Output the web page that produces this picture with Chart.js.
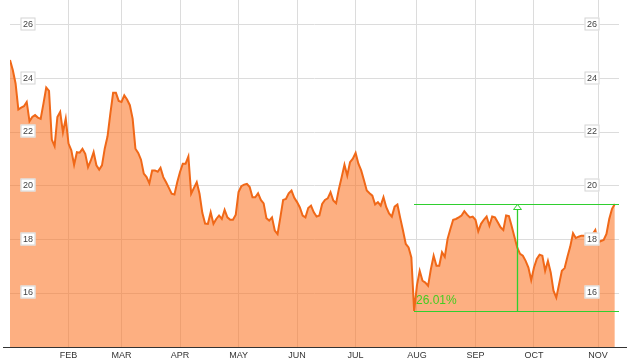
<!DOCTYPE html>
<html>
<head>
<meta charset="utf-8">
<title>Price chart</title>
<script src="https://cdn.jsdelivr.net/npm/chart.js@4.4.1/dist/chart.umd.min.js"></script>
<style>
	html, body { margin: 0; padding: 0; background: #fff; }
	#wrap { position: relative; width: 627px; height: 363px; }
</style>
</head>
<body>
<div id="wrap"><canvas id="price-chart" width="627" height="363"></canvas></div>
<script>
// Daily closes, one per trading day (Jan 2 .. Nov 11).
const closes = [
	24.69, 24.32, 23.82, 22.85, 22.92, 22.97, 23.13, 22.41, 22.57, 22.64,
	22.55, 22.50, 23.07, 23.67, 23.54, 21.73, 21.48, 22.57, 22.76, 22.00,
	22.51, 21.58, 21.33, 20.79, 21.26, 21.24, 21.38, 21.20, 20.70, 20.95,
	21.26, 20.77, 20.61, 20.77, 21.40, 21.85, 22.70, 23.47, 23.47, 23.17,
	23.13, 23.38, 23.22, 23.01, 22.51, 21.39, 21.23, 20.98, 20.46, 20.33,
	20.10, 20.58, 20.58, 20.53, 20.68, 20.33, 20.14, 19.93, 19.71, 19.68,
	20.14, 20.52, 20.83, 20.83, 21.10, 19.71, 19.93, 20.14, 19.71, 19.00,
	18.60, 18.59, 19.02, 18.59, 18.77, 18.90, 18.77, 19.11, 18.83, 18.74,
	18.74, 18.93, 19.77, 19.99, 20.05, 20.08, 19.96, 19.58, 19.58, 19.73,
	19.48, 19.35, 18.80, 18.71, 18.83, 18.34, 18.21, 18.83, 19.48, 19.52,
	19.73, 19.83, 19.56, 19.40, 19.20, 18.90, 18.83, 19.18, 19.27, 19.02,
	18.86, 18.90, 19.33, 19.48, 19.54, 19.77, 19.46, 19.36, 19.89, 20.33,
	20.79, 20.39, 20.89, 21.02, 21.23, 20.83, 20.58, 20.21, 19.83, 19.73,
	19.64, 19.31, 19.40, 19.27, 19.58, 19.21, 18.98, 18.86, 19.23, 19.31,
	18.81, 18.34, 17.84, 17.71, 17.34, 15.34, 16.30, 16.84, 16.47, 16.40,
	16.28, 16.90, 17.40, 17.03, 17.03, 17.53, 17.36, 18.03, 18.40, 18.74,
	18.77, 18.83, 18.90, 19.06, 18.93, 18.83, 18.86, 18.74, 18.31, 18.59,
	18.74, 18.86, 18.52, 18.86, 18.83, 18.65, 18.46, 18.36, 18.90, 18.88,
	18.50, 18.10, 17.70, 17.47, 17.40, 17.21, 16.96, 16.49, 16.96, 17.28,
	17.44, 17.40, 16.84, 17.21, 16.78, 16.10, 15.84, 16.34, 16.84, 16.94,
	17.36, 17.74, 18.24, 18.06, 18.11, 18.15, 18.15, 18.15, 18.17, 18.20,
	18.36, 17.90, 17.95, 17.99, 18.21, 18.77, 19.15, 19.33
];

// Trading-day index of the first session of each month.
const monthStarts = [21, 40, 61, 82, 103, 124, 146, 167, 188, 211];
const monthLabels = ['FEB', 'MAR', 'APR', 'MAY', 'JUN', 'JUL', 'AUG', 'SEP', 'OCT', 'NOV'];

const yTicks = [16, 18, 20, 22, 24, 26];

(function() {
	'use strict';

	const labelFont = '9px Arial, "Liberation Sans", sans-serif';
	const green = '#2fcf2f';

	// Price boxes on both sides of the plot.
	const priceBoxes = {
		id: 'priceBoxes',
		afterDatasetsDraw: function(chart) {
			const ctx = chart.ctx;
			const area = chart.chartArea;
			const y = chart.scales.y;
			ctx.save();
			ctx.font = labelFont;
			ctx.textAlign = 'center';
			ctx.textBaseline = 'middle';
			yTicks.forEach(function(v) {
				const py = Math.round(y.getPixelForValue(v)) - 1;
				[area.left + 18, area.right - 27].forEach(function(cx) {
					ctx.fillStyle = '#ffffff';
					ctx.fillRect(cx - 7.5, py - 6.5, 15, 13);
					ctx.strokeStyle = '#d4d4d4';
					ctx.lineWidth = 1;
					ctx.strokeRect(cx - 7, py - 6, 14, 12);
					ctx.fillStyle = '#444444';
					ctx.fillText(String(v), cx, py + 0.5);
				});
			});
			ctx.restore();
		}
	};

	// Low-to-last range measurement.
	const swingRange = {
		id: 'swingRange',
		afterDatasetsDraw: function(chart) {
			const ctx = chart.ctx;
			const area = chart.chartArea;
			const x = chart.scales.x;
			const y = chart.scales.y;

			let lowIdx = 0;
			closes.forEach(function(v, i) {
				if (v < closes[lowIdx]) {
					lowIdx = i;
				}
			});
			const low = closes[lowIdx];
			const last = closes[closes.length - 1];

			const x0 = Math.round(x.getPixelForValue(lowIdx));
			const x1 = area.right;
			const yLow = Math.round(y.getPixelForValue(low)) + 0.5;
			const yHigh = Math.round(y.getPixelForValue(last)) + 0.5;
			const xm = Math.round((x0 + x1) / 2) + 0.5;

			ctx.save();
			ctx.strokeStyle = green;
			ctx.lineWidth = 1;
			ctx.beginPath();
			ctx.moveTo(x0, yLow);
			ctx.lineTo(x1, yLow);
			ctx.moveTo(x0, yHigh);
			ctx.lineTo(x1, yHigh);
			ctx.stroke();

			ctx.lineWidth = 1.3;
			ctx.beginPath();
			ctx.moveTo(xm, yLow);
			ctx.lineTo(xm, yHigh + 5);
			ctx.stroke();

			// Hollow arrow head.
			ctx.lineWidth = 1;
			ctx.beginPath();
			ctx.moveTo(xm - 4, yHigh + 5);
			ctx.lineTo(xm + 4, yHigh + 5);
			ctx.lineTo(xm, yHigh);
			ctx.closePath();
			ctx.fillStyle = '#ffffff';
			ctx.fill();
			ctx.stroke();

			const pct = ((last / low) - 1) * 100;
			ctx.font = '12px Arial, "Liberation Sans", sans-serif';
			ctx.fillStyle = '#44cc22';
			ctx.textAlign = 'left';
			ctx.textBaseline = 'middle';
			ctx.fillText(pct.toFixed(2) + '%', x0 + 2, yLow - 11);
			ctx.restore();
		}
	};

	// Dark base line under the plot, wider than the plot area.
	const baseLine = {
		id: 'baseLine',
		afterDraw: function(chart) {
			const ctx = chart.ctx;
			const yb = chart.chartArea.bottom + 0.5;
			ctx.save();
			ctx.strokeStyle = '#333333';
			ctx.lineWidth = 1;
			ctx.beginPath();
			ctx.moveTo(3, yb);
			ctx.lineTo(chart.width, yb);
			ctx.stroke();
			ctx.restore();
		}
	};

	const ctx = document.getElementById('price-chart').getContext('2d');

	new Chart(ctx, {
		type: 'line',
		data: {
			datasets: [{
				data: closes.map(function(v, i) { return { x: i, y: v }; }),
				borderColor: '#f06818',
				backgroundColor: 'rgba(251, 118, 38, 0.58)',
				borderWidth: 2,
				fill: 'start',
				tension: 0,
				pointRadius: 0
			}]
		},
		options: {
			responsive: false,
			animation: false,
			events: [],
			layout: {
				padding: { left: 10, right: 8, top: 0, bottom: 0 }
			},
			plugins: {
				legend: { display: false },
				tooltip: { enabled: false }
			},
			scales: {
				x: {
					type: 'linear',
					min: 0,
					max: 218.5,
					afterBuildTicks: function(scale) {
						scale.ticks = monthStarts.map(function(v) { return { value: v }; });
					},
					afterFit: function(scale) {
						scale.height = 16;
					},
					border: { display: false },
					grid: {
						color: '#dcdcdc',
						drawTicks: false
					},
					ticks: {
						autoSkip: false,
						maxRotation: 0,
						padding: 3,
						color: '#333333',
						font: { family: 'Arial, "Liberation Sans", sans-serif', size: 9 },
						callback: function(value, index) {
							return monthLabels[index];
						}
					}
				},
				y: {
					min: 14,
					max: 26.93,
					afterBuildTicks: function(scale) {
						scale.ticks = yTicks.map(function(v) { return { value: v }; });
					},
					afterFit: function(scale) {
						scale.width = 0;
					},
					border: { display: false },
					grid: {
						color: '#dcdcdc',
						drawTicks: false
					},
					ticks: { display: false }
				}
			}
		},
		plugins: [swingRange, priceBoxes, baseLine]
	});
})();
</script>
</body>
</html>
